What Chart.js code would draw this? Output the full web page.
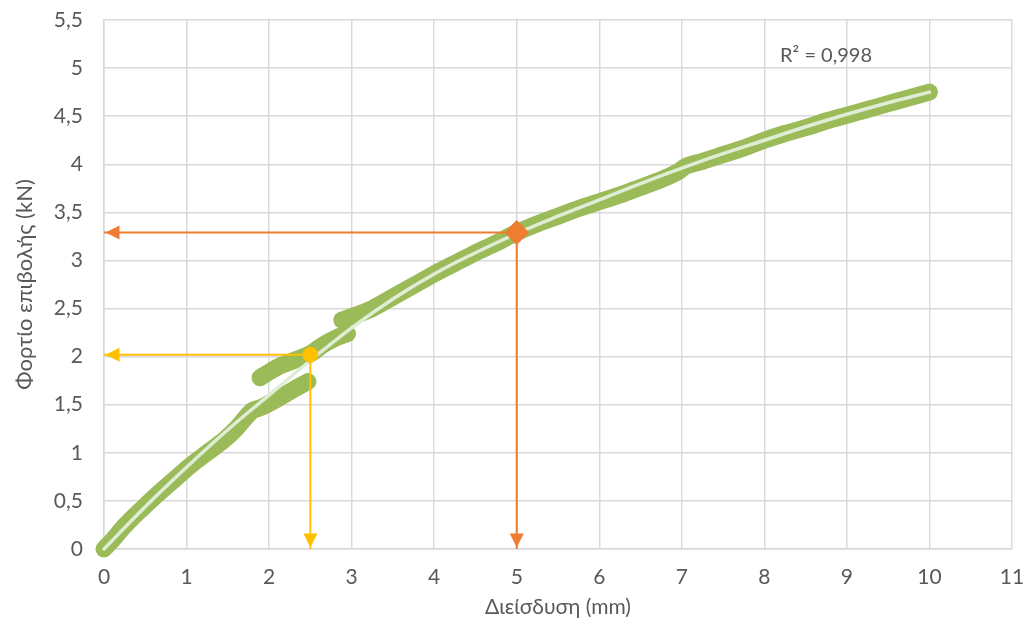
<!DOCTYPE html>
<html>
<head>
<meta charset="utf-8">
<script src="https://cdn.jsdelivr.net/npm/chart.js@4.4.1/dist/chart.umd.min.js"></script>
<style>
  html, body { margin: 0; padding: 0; background: #ffffff; }
  #wrap { width: 1030px; height: 634px; }
</style>
</head>
<body>
<div id="wrap"><canvas id="chart" width="1030" height="634"></canvas></div>
<script>
// Axis tick labels (decimal comma)
const yTickLabels = ['0', '0,5', '1', '1,5', '2', '2,5', '3', '3,5', '4', '4,5', '5', '5,5'];
const xTickLabels = ['0', '1', '2', '3', '4', '5', '6', '7', '8', '9', '10', '11'];

// Penetration (mm) / load (kN) record, split where the trace jumps
const runA = [
  [0, 0], [0.1, 0.09], [0.25, 0.24], [0.45, 0.41], [0.65, 0.57], [0.85, 0.72],
  [1.05, 0.87], [1.25, 1.0], [1.45, 1.13], [1.6, 1.25], [1.72, 1.37], [1.8, 1.44],
  [1.9, 1.47], [2.1, 1.56], [2.3, 1.66], [2.47, 1.74]
];
const runB = [
  [1.89, 1.78], [2.0, 1.84], [2.15, 1.91], [2.3, 1.96], [2.5, 2.03], [2.65, 2.12],
  [2.8, 2.19], [2.95, 2.24]
];
const runC = [
  [2.88, 2.38], [3.05, 2.43], [3.25, 2.5], [3.5, 2.62], [3.75, 2.74], [4.0, 2.86],
  [4.25, 2.97], [4.5, 3.08], [4.75, 3.18], [5.0, 3.29], [5.25, 3.38], [5.5, 3.46],
  [5.75, 3.54], [6.0, 3.61], [6.25, 3.68], [6.5, 3.76], [6.75, 3.84], [6.95, 3.92],
  [7.05, 3.98], [7.25, 4.03], [7.5, 4.1], [7.75, 4.17], [8.0, 4.25], [8.25, 4.32],
  [8.5, 4.38], [8.75, 4.45], [9.0, 4.51], [9.25, 4.57], [9.5, 4.63], [9.75, 4.69],
  [10.0, 4.75]
];

// Fitted trend curve
const trendCurve = [
  [0, 0], [0.5, 0.44], [1, 0.85], [1.5, 1.24], [2, 1.6], [2.5, 1.96], [3, 2.3],
  [3.5, 2.6], [4, 2.86], [4.5, 3.08], [5, 3.28], [5.5, 3.46], [6, 3.63], [6.5, 3.8],
  [7, 3.96], [7.5, 4.11], [8, 4.25], [8.5, 4.39], [9, 4.52], [9.5, 4.64], [10, 4.75]
];
const r2Label = 'R² = 0,998';

// Read-off points
const readA = [5, 3.29];
const readB = [2.5, 2.02];

const GREEN = '#9bbb59';
const TREND = '#dfedd6';
const ORANGE = '#ed7d31';
const YELLOW = '#ffc000';
const GRID = '#d9d9d9';
const TEXT = '#595959';
const FONT = 'Lato, "Open Sans", sans-serif';

const pts = arr => arr.map(p => ({ x: p[0], y: p[1] }));

function band(arr) {
  return {
    data: pts(arr), showLine: true, borderColor: GREEN, borderWidth: 17,
    borderCapStyle: 'round', borderJoinStyle: 'round', pointRadius: 0,
    tension: 0.3, clip: false, order: 4
  };
}
function shaft(from, to, color) {
  return {
    data: pts([from, to]), showLine: true, borderColor: color, borderWidth: 2,
    pointRadius: 0, arrowHead: true, clip: false, order: 2
  };
}

// Arrow tips at the axis end of each read-off line
const arrowHeads = {
  id: 'arrowHeads',
  afterDatasetsDraw(chart) {
    const ctx = chart.ctx;
    chart.data.datasets.forEach((ds, i) => {
      if (!ds.arrowHead) return;
      const el = chart.getDatasetMeta(i).data;
      const a = el[el.length - 2], b = el[el.length - 1];
      const ang = Math.atan2(b.y - a.y, b.x - a.x);
      const c = Math.cos(ang), s = Math.sin(ang);
      const len = 14, half = 7, inset = 1.5;
      const tx = b.x - c * inset, ty = b.y - s * inset;
      ctx.save();
      ctx.fillStyle = ds.borderColor;
      ctx.beginPath();
      ctx.moveTo(tx, ty);
      ctx.lineTo(tx - c * len - s * half, ty - s * len + c * half);
      ctx.lineTo(tx - c * len + s * half, ty - s * len - c * half);
      ctx.closePath();
      ctx.fill();
      ctx.restore();
    });
  }
};

// R² annotation next to the fitted curve
const r2Note = {
  id: 'r2Note',
  afterDraw(chart) {
    const { ctx, scales } = chart;
    ctx.save();
    ctx.font = '20px ' + FONT;
    ctx.fillStyle = TEXT;
    ctx.textAlign = 'left';
    ctx.textBaseline = 'middle';
    ctx.fillText(r2Label, scales.x.getPixelForValue(8.19), scales.y.getPixelForValue(5.13));
    ctx.restore();
  }
};

new Chart(document.getElementById('chart'), {
  type: 'scatter',
  data: {
    datasets: [
      band(runA),
      band(runB),
      band(runC),
      {
        data: pts(trendCurve), showLine: true, borderColor: TREND, borderWidth: 3.5,
        borderCapStyle: 'round', pointRadius: 0, tension: 0.4, clip: false, order: 3
      },
      shaft(readA, [0, readA[1]], ORANGE),
      shaft(readA, [readA[0], 0], ORANGE),
      shaft(readB, [0, readB[1]], YELLOW),
      shaft(readB, [readB[0], 0], YELLOW),
      {
        data: pts([readA]), pointStyle: 'rectRot', pointRadius: 12,
        backgroundColor: ORANGE, borderColor: ORANGE, borderWidth: 1, order: 1, clip: false
      },
      {
        data: pts([readB]), pointStyle: 'circle', pointRadius: 7.5,
        backgroundColor: YELLOW, borderColor: YELLOW, borderWidth: 1, order: 1, clip: false
      }
    ]
  },
  options: {
    responsive: false,
    devicePixelRatio: 1,
    animation: false,
    events: [],
    layout: { padding: { top: 20, right: 18, left: 0, bottom: 0 } },
    plugins: { legend: { display: false }, tooltip: { enabled: false } },
    scales: {
      x: {
        type: 'linear', min: 0, max: 11,
        afterFit(scale) {
          scale.height = 85;
          scale.paddingLeft = 0;
          scale.paddingRight = 0;
        },
        ticks: {
          stepSize: 1, padding: 16, color: TEXT,
          font: { family: FONT, size: 21 },
          callback: (v, i) => xTickLabels[i]
        },
        grid: { color: GRID, lineWidth: 1.5, drawTicks: false },
        border: { color: GRID, width: 1.5 },
        title: {
          display: true, text: 'Διείσδυση (mm)', color: TEXT,
          font: { family: FONT, size: 21 },
          padding: { top: 0, bottom: 14 }
        }
      },
      y: {
        type: 'linear', min: 0, max: 5.5,
        afterFit(scale) {
          scale.width = 104;
          scale.paddingTop = 0;
          scale.paddingBottom = 0;
        },
        ticks: {
          stepSize: 0.5, padding: 21, color: TEXT,
          font: { family: FONT, size: 21 },
          callback: (v, i) => yTickLabels[i]
        },
        grid: { color: GRID, lineWidth: 1.5, drawTicks: false },
        border: { color: GRID, width: 1.5 },
        title: {
          display: true, text: 'Φορτίο επιβολής (kN)', color: TEXT,
          font: { family: FONT, size: 22 },
          padding: { top: 12, bottom: 0 }
        }
      }
    }
  },
  plugins: [arrowHeads, r2Note]
});
</script>
</body>
</html>
